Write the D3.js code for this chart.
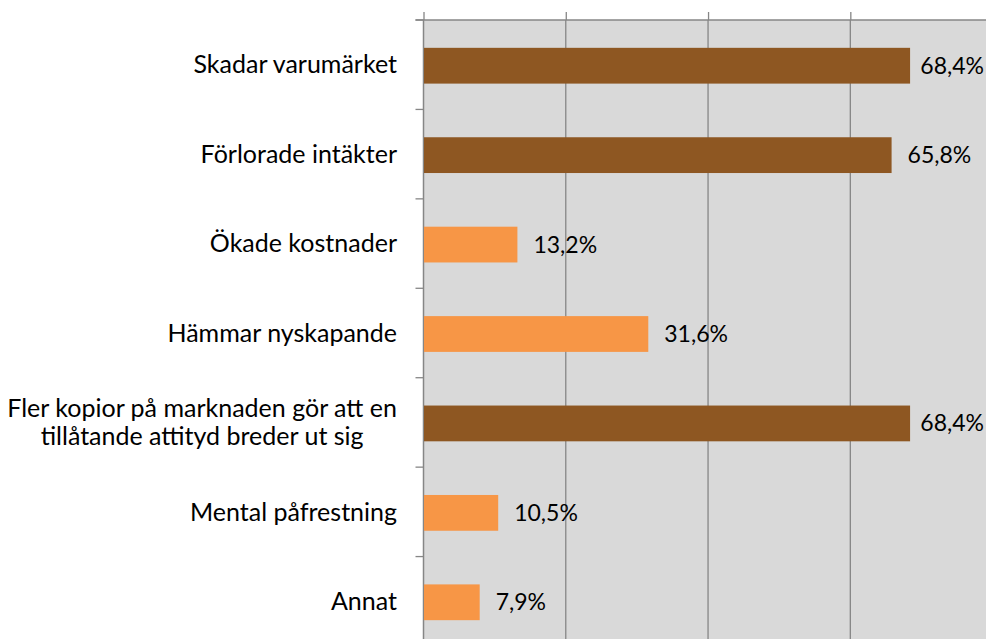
<!DOCTYPE html>
<html><head><meta charset="utf-8">
<script src="https://cdn.jsdelivr.net/npm/d3@7"></script>
<style>
html,body{margin:0;padding:0;background:#fff;overflow:hidden;}
text{font-family:Lato,"Open Sans",sans-serif;fill:#000;}
</style></head>
<body>
<svg id="chart" width="986" height="639"></svg>
<script>
const categories = [
  ["Skadar varumärket"],
  ["Förlorade intäkter"],
  ["Ökade kostnader"],
  ["Hämmar nyskapande"],
  ["Fler kopior på marknaden gör att en", "tillåtande attityd breder ut sig"],
  ["Mental påfrestning"],
  ["Annat"]
];
const values = [68.4, 65.8, 13.2, 31.6, 68.4, 10.5, 7.9];
const groups = ["major","major","minor","minor","major","minor","minor"];
const valueLabels = ["68,4%","65,8%","13,2%","31,6%","68,4%","10,5%","7,9%"];
const xTicks = [0, 20, 40, 60, 80];

(function(){
const W = 986, H = 639;
const svg = d3.select("#chart");
const pLeft = 423.5, pTop = 20, pRight = 992.6, pBottom = 646;
const catFont = 25, valFont = 23;

const x = d3.scaleLinear().domain([0, 80]).range([pLeft, pRight]);
const y = d3.scaleBand().domain(d3.range(categories.length)).range([pTop, pBottom]).padding(0);
const color = d3.scaleOrdinal().domain(["major","minor"]).range(["#8E5722","#F79646"]);

svg.append("rect").attr("x", pLeft).attr("y", pTop).attr("width", pRight-pLeft).attr("height", pBottom-pTop).attr("fill", "#D9D9D9");

svg.append("g").selectAll("line").data(xTicks.slice(1)).join("line")
  .attr("x1", d=>x(d)).attr("x2", d=>x(d)).attr("y1", pTop).attr("y2", pBottom)
  .attr("stroke", "#868686").attr("stroke-width", 1.3);

const xAxis = d3.axisTop(x).tickValues(xTicks).tickSize(8).tickFormat("");
const gx = svg.append("g").attr("transform", `translate(0,${pTop})`).call(xAxis);
gx.select(".domain").remove();
gx.selectAll("line").attr("stroke", "#868686").attr("stroke-width", 1.3);
svg.append("line").attr("x1", pLeft-8).attr("x2", W).attr("y1", pTop).attr("y2", pTop)
  .attr("stroke", "#868686").attr("stroke-width", 1.5);

const yTickPos = d3.range(categories.length + 1).map(i => pTop + i * y.step());
svg.append("g").selectAll("line").data(yTickPos).join("line")
  .attr("x1", pLeft-8).attr("x2", pLeft).attr("y1", d=>d).attr("y2", d=>d)
  .attr("stroke", "#868686").attr("stroke-width", 1.3);
svg.append("line").attr("x1", pLeft).attr("x2", pLeft).attr("y1", pTop).attr("y2", pBottom)
  .attr("stroke", "#868686").attr("stroke-width", 1.5);

const barH = y.bandwidth() * 0.4;
svg.append("g").selectAll("rect").data(values).join("rect")
  .attr("x", x(0)+0.5)
  .attr("y", (d,i) => y(i) + y.bandwidth()/2 - barH/2 + 1)
  .attr("width", d => x(d) - x(0) - 0.5)
  .attr("height", barH)
  .attr("fill", (d,i) => color(groups[i]));

const vl = svg.append("g").selectAll("text").data(values).join("text")
  .attr("y", (d,i) => y(i) + y.bandwidth()/2 + 1)
  .attr("dy", "0.35em")
  .attr("font-size", valFont)
  .text((d,i) => valueLabels[i]);
vl.each(function(d){
  const w = this.getComputedTextLength();
  const xx = Math.min(x(d) + 16, W - 2 - w);
  d3.select(this).attr("x", xx);
});

const lineH = 28.5;
const cg = svg.append("g").selectAll("text").data(categories).join("text")
  .attr("font-size", catFont)
  .attr("text-anchor", "middle");
cg.each(function(lines, i){
  const t = d3.select(this);
  const cy = y(i) + y.bandwidth()/2;
  const n = lines.length;
  lines.forEach((ln, k) => {
    t.append("tspan").text(ln)
      .attr("y", cy + (k - (n-1)/2) * lineH).attr("dy", "0.35em");
  });
  const widths = [];
  t.selectAll("tspan").each(function(){ widths.push(this.getComputedTextLength()); });
  const maxW = d3.max(widths);
  t.selectAll("tspan").attr("x", 397 - maxW/2);
});
})();
</script>
</body></html>
